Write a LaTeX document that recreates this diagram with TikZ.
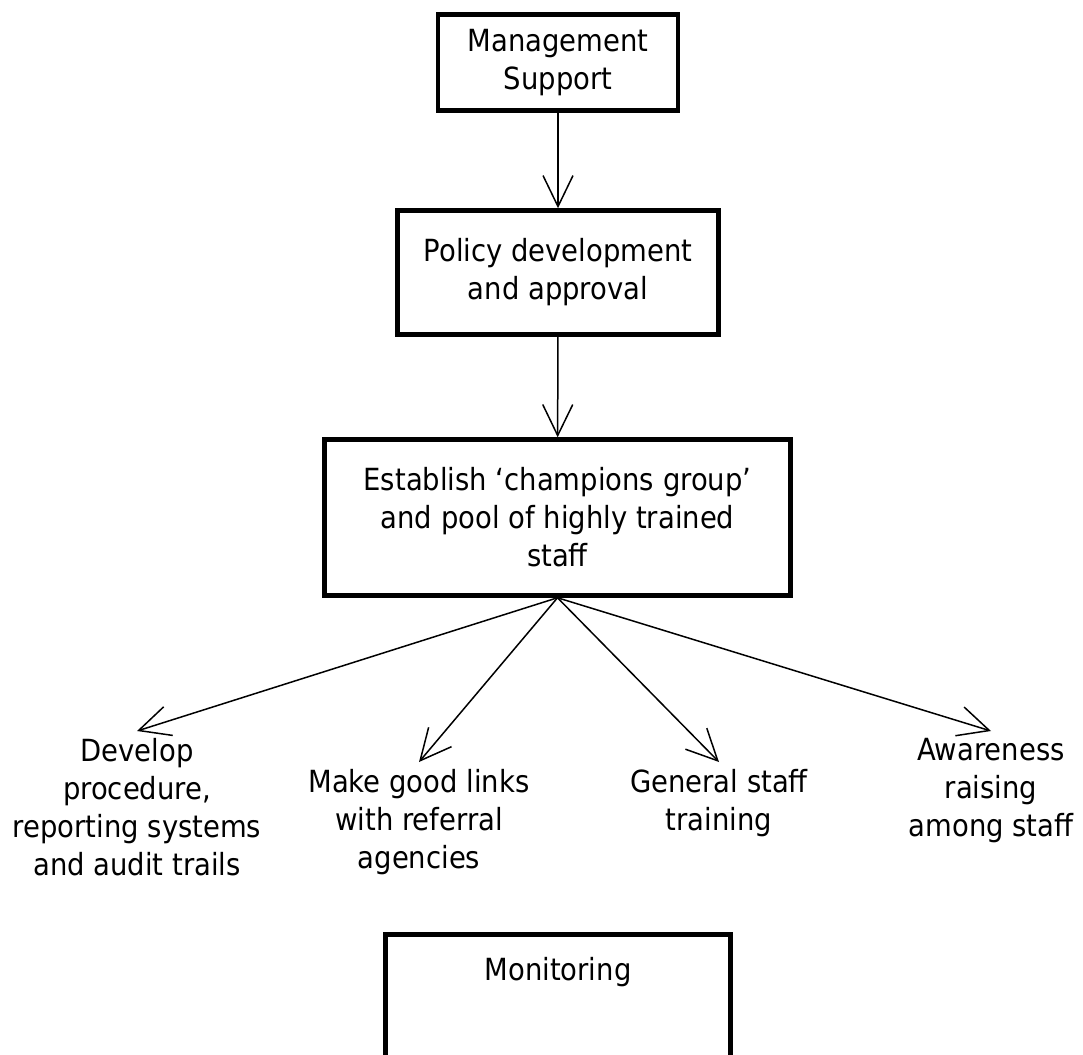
\documentclass[tikz,border=0pt]{standalone}
\usepackage{fontspec}
\setmainfont{DejaVu Sans}[FakeStretch=0.9]
\usetikzlibrary{arrows.meta}
\tikzset{%
	every stage/.style={
		rectangle,
		draw,
		line width=4.5pt,
		align=center,
		inner sep=0pt
	},
	action/.style={
		align=center,
		inner sep=0pt,
		outer sep=7pt,
		anchor=north
	},
}

\begin{document}
\begin{tikzpicture}[x=1pt, y=-1pt, >={Straight Barb[length=31pt,width=30pt]},
		font=\fontsize{30.5}{38}\selectfont]
		
		\useasboundingbox (0,0) rectangle (1083,1054);
		\clip (0,0) rectangle (1083,1054);
		
		\node [every stage, minimum width=240pt, minimum height=96pt] (support) at (558,62.5) {Management\\Support};
		\node [every stage, minimum width=321pt, minimum height=124pt] (policy) at (558,272.5) {Policy development\\and approval};
		\node [every stage, minimum width=466pt, minimum height=156pt] (champions) at (557.5,517.5) {Establish `champions group'\\and pool of highly trained\\staff};
		\node [every stage, anchor=north, minimum width=345pt, text height=46pt, text depth=160pt] (monitoring) at (558,932) {Monitoring};
		
		\node [action] (procedure) at (137,731) {Develop\\procedure,\\reporting systems\\and audit trails};
		\node [action] (links) at (419,762) {Make good links\\with referral\\agencies};
		\node [action] (training) at (719,762) {General staff\\training};
		\node [action] (awareness) at (991,731) {Awareness\\raising\\among staff};
		
		\draw [->, line width=1.5pt] (support) -- (policy);
		\draw [->, line width=1.5pt] (policy) -- (champions);
		
		\foreach \t in {procedure, links, training, awareness}
		\draw [->, line width=1.5pt] (champions.south) -- (\t.north);
		
\end{tikzpicture}
\end{document}
